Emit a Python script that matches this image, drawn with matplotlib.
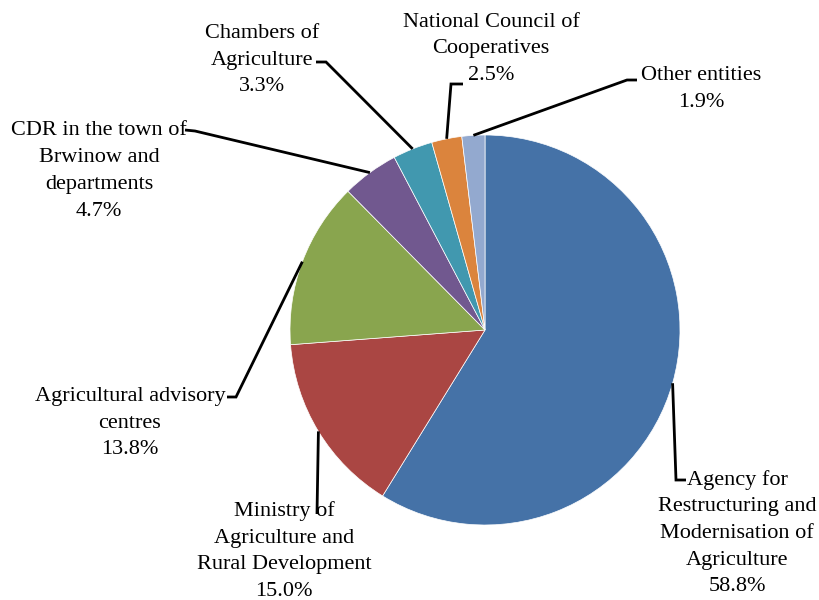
"""Pie chart of entity shares with elbow leader lines, Excel style."""

import matplotlib

matplotlib.use("Agg")
import matplotlib.pyplot as plt
import numpy as np

labels = [
    "Agency for\nRestructuring and\nModernisation of\nAgriculture",
    "Ministry of\nAgriculture and\nRural Development",
    "Agricultural advisory\ncentres",
    "CDR in the town of\nBrwinow and\ndepartments",
    "Chambers of\nAgriculture",
    "National Council of\nCooperatives",
    "Other entities",
]
shares = [58.8, 15.0, 13.8, 4.7, 3.3, 2.5, 1.9]
colors = ["#4572A7", "#AA4643", "#89A54E", "#71588F", "#4198AF", "#DB843D", "#93A9CF"]

W, H = 820, 600
CX, CY, R = 485, 330, 195

# label block centre, leader elbow, leader end (pixels from top-left)
layout = [
    ((737, 533), (676, 480), (686, 480)),
    ((284, 551), (317, 514), (317, 514)),
    ((130, 423), (236, 397), (227, 397)),
    ((99, 171), (195, 131), (185, 130)),
    ((262, 60), (326, 62), (316, 62)),
    ((491, 49), (451, 84), (463, 84)),
    ((701, 89), (627, 80), (637, 80)),
]


def px(p):
    return p[0], H - p[1]


fig = plt.figure(figsize=(W / 100, H / 100), dpi=100)
ax = fig.add_axes([0, 0, 1, 1])
ax.axis("off")

wedges, _ = ax.pie(shares, colors=colors, startangle=90, counterclock=False,
                   center=(CX, H - CY), radius=R,
                   wedgeprops=dict(edgecolor="white", linewidth=0.5))
ax.set_xlim(0, W)
ax.set_ylim(0, H)
ax.set_aspect("equal")

for w, lab, val, (txt, elbow, end) in zip(wedges, labels, shares, layout):
    mid = np.deg2rad((w.theta1 + w.theta2) / 2)
    start = (CX + R * np.cos(mid), H - CY + R * np.sin(mid))
    e, f = px(elbow), px(end)
    ax.plot([start[0], e[0], f[0]], [start[1], e[1], f[1]], color="black", lw=2,
            solid_capstyle="butt", solid_joinstyle="miter")
    tx, ty = px(txt)
    ax.text(tx, ty, f"{lab}\n{val:.1f}%", ha="center", va="center", ma="center",
            fontsize=16, family="Liberation Serif", linespacing=1.55)

fig.savefig("out.png", dpi=100)
